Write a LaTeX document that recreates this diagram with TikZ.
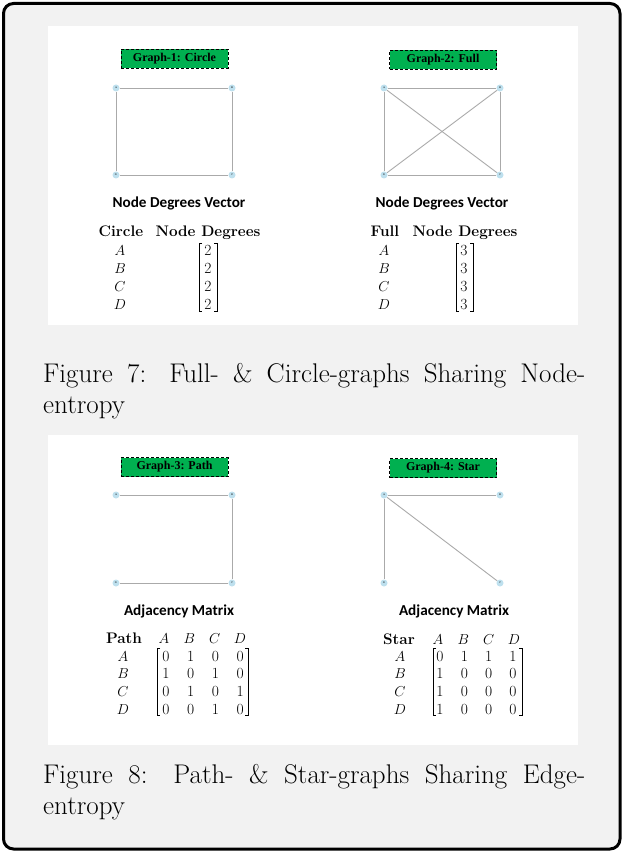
\documentclass[tikz,border=0pt]{standalone}
\usepackage{fontspec}
\usepackage{amsmath}
\usepackage{xcolor}
\newfontfamily\carlitofont{Carlito}
\newfontfamily\timesfont{Liberation Serif}
\usetikzlibrary{positioning}

\definecolor{panelgray}{RGB}{242,242,242}
\definecolor{labelgreen}{RGB}{0,176,80}
\definecolor{vtxblue}{RGB}{190,224,238}
\definecolor{edgegray}{RGB}{170,170,170}

\tikzset{
  vtx/.style={circle, fill=vtxblue, inner sep=0pt, minimum size=7pt,
    font=\fontsize{2.5}{3}\selectfont},
  edgeline/.style={draw=edgegray, line width=0.9pt},
  glabel/.style={draw=black, line width=1pt, dash pattern=on 3pt off 2pt,
    fill=labelgreen, minimum width=107pt, minimum height=19pt, inner sep=0pt,
    font=\timesfont\bfseries\fontsize{12}{12}\selectfont},
  heading/.style={font=\carlitofont\bfseries\fontsize{15.2}{16}\selectfont},
  colhead/.style={anchor=base, inner sep=0pt,
    font=\bfseries\fontsize{15.3}{16}\selectfont},
  entry/.style={anchor=base, inner sep=0pt, font=\fontsize{15.5}{16}\selectfont},
  bracket/.style={line width=0.7pt},
  captext/.style={anchor=base west, inner sep=0pt,
    font=\fontsize{27}{31}\selectfont},
}

\begin{document}
\begin{tikzpicture}[x=1pt,y=-1pt]

% Page size and frame
\useasboundingbox (0,0) rectangle (624,853);
\draw[line width=3pt, rounded corners=10pt, fill=panelgray]
  (3.5,3.5) rectangle (620,849);

% White panels
\fill[white] (48,26) rectangle (578,325);
\fill[white] (48,435) rectangle (578,745);

% Graph-1: Circle
\node[glabel] (lab1) at (174.5,59) {Graph-1: Circle};
\node[vtx] (g1a) at (116,88) {A};
\node[vtx] (g1b) at (232,88) {B};
\node[vtx] (g1c) at (232,175) {C};
\node[vtx] (g1d) at (116,175) {D};
\draw[edgeline] (g1a) -- (g1b) -- (g1c) -- (g1d) -- (g1a);

% Graph-2: Full
\node[glabel] (lab2) at (443,60) {Graph-2: Full};
\node[vtx] (g2a) at (384,88) {A};
\node[vtx] (g2b) at (500,88) {B};
\node[vtx] (g2c) at (500,175) {C};
\node[vtx] (g2d) at (384,175) {D};
\draw[edgeline] (g2a) -- (g2b) -- (g2c) -- (g2d) -- (g2a);
\draw[edgeline] (g2a) -- (g2c);
\draw[edgeline] (g2b) -- (g2d);

% Node degrees vectors
\node[heading] (deg1) at (179,203) {Node Degrees Vector};
\node[heading] (deg2) at (442,203) {Node Degrees Vector};

\node[colhead] (t1name) at (121,236) {Circle};
\node[colhead] (t1col) at (208,236) {Node Degrees};
\foreach \r [count=\i from 0] in {A,B,C,D} {
  \node[entry] (t1row\r) at (120,255+18*\i) {$\r$};
  \node[entry] (t1val\r) at (208,255+18*\i) {2};
}
\draw[bracket] (202,243) -- (199,243) -- (199,311) -- (202,311);
\draw[bracket] (214,243) -- (217,243) -- (217,311) -- (214,311);

\node[colhead] (t2name) at (385,236) {Full};
\node[colhead] (t2col) at (465,236) {Node Degrees};
\foreach \r [count=\i from 0] in {A,B,C,D} {
  \node[entry] (t2row\r) at (384,255+18*\i) {$\r$};
  \node[entry] (t2val\r) at (464,255+18*\i) {3};
}
\draw[bracket] (459,243) -- (456,243) -- (456,311) -- (459,311);
\draw[bracket] (470,243) -- (473,243) -- (473,311) -- (470,311);

% Caption of figure 7
\node[captext] (cap7a) at (43,382)
  {\hbox to 542pt{Figure 7: Full- \& Circle-graphs Sharing Node-}};
\node[captext] (cap7b) at (43,413) {entropy};

% Graph-3: Path
\node[glabel] (lab3) at (174.5,467) {Graph-3: Path};
\node[vtx] (g3a) at (116,495) {A};
\node[vtx] (g3b) at (232,495) {B};
\node[vtx] (g3c) at (232,583) {C};
\node[vtx] (g3d) at (116,583) {D};
\draw[edgeline] (g3a) -- (g3b) -- (g3c) -- (g3d);

% Graph-4: Star
\node[glabel] (lab4) at (443,468) {Graph-4: Star};
\node[vtx] (g4a) at (384,495) {A};
\node[vtx] (g4b) at (500,495) {B};
\node[vtx] (g4c) at (500,583) {C};
\node[vtx] (g4d) at (384,583) {D};
\draw[edgeline] (g4a) -- (g4b);
\draw[edgeline] (g4a) -- (g4c);
\draw[edgeline] (g4a) -- (g4d);

% Adjacency matrices
\node[heading] (adj3) at (179,611) {Adjacency Matrix};
\node[heading] (adj4) at (454,611) {Adjacency Matrix};

\node[colhead] (m3name) at (124,643) {Path};
\foreach \c [count=\j from 0] in {A,B,C,D}
  \node[entry] (m3col\c) at (164+25.3*\j,643) {$\c$};
\foreach \r/\vals [count=\i from 0] in {A/{0,1,0,0},B/{1,0,1,0},C/{0,1,0,1},D/{0,0,1,0}} {
  \node[entry] (m3row\r) at (123,661+17.7*\i) {$\r$};
  \foreach \v [count=\j from 0] in \vals
    \node[entry] (m3\r\j) at (166+24.7*\j,661+17.7*\i) {\v};
}
\draw[bracket] (160,648) -- (157,648) -- (157,715) -- (160,715);
\draw[bracket] (245,648) -- (248,648) -- (248,715) -- (245,715);

\node[colhead] (m4name) at (399,644) {Star};
\foreach \c [count=\j from 0] in {A,B,C,D}
  \node[entry] (m4col\c) at (438+25.3*\j,644) {$\c$};
\foreach \r/\vals [count=\i from 0] in {A/{0,1,1,1},B/{1,0,0,0},C/{1,0,0,0},D/{1,0,0,0}} {
  \node[entry] (m4row\r) at (400,661+17.7*\i) {$\r$};
  \foreach \v [count=\j from 0] in \vals
    \node[entry] (m4\r\j) at (440+24.3*\j,661+17.7*\i) {\v};
}
\draw[bracket] (436,648) -- (433,648) -- (433,715) -- (436,715);
\draw[bracket] (519,648) -- (522,648) -- (522,715) -- (519,715);

% Caption of figure 8
\node[captext] (cap8a) at (43,783)
  {\hbox to 542pt{Figure 8: Path- \& Star-graphs Sharing Edge-}};
\node[captext] (cap8b) at (43,814) {entropy};

\end{tikzpicture}
\end{document}
